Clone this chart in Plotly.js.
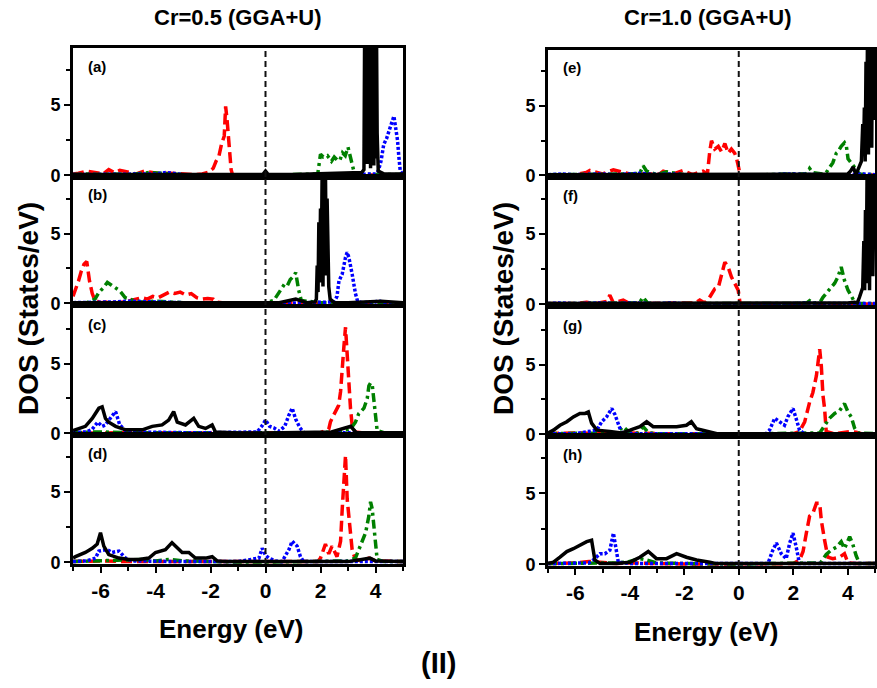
<!DOCTYPE html>
<html>
<head>
<meta charset="utf-8">
<script src="https://cdn.plot.ly/plotly-3.0.1.min.js"></script>
<style>html,body{margin:0;padding:0;background:#fff;}#chart{width:877px;height:688px;}</style>
</head>
<body>
<div id="chart"></div>
<script>
// ---------------- DATA (Energy in eV, DOS in States/eV) ----------------
// Panel (a) Cr=0.5
const E_a_k = [-7,-6,-5,-4,-3,-2,-1,-0.1,0,0.1,1,2,3,3.5,3.58,3.61,3.64,3.67,3.70,3.73,3.76,3.79,3.82,3.85,3.88,3.91,3.94,3.97,4.00,4.03,4.06,4.1,4.3,5];
const D_a_k = [0.05,0.05,0.05,0.05,0.05,0.05,0.05,0.05,0.3,0.05,0.05,0.1,0.15,0.2,0.4,12,1.0,12,0.8,12,1.5,12,0.5,12,2.0,12,0.7,12,1.2,12,3,0.3,0.1,0.1];
const E_a_r = [-7,-6.8,-6.5,-6.2,-5.9,-5.7,-5.5,-5.3,-5.0,-4.7,-4.4,-4.1,-3.8,-3.5,-3.2,-2.9,-2.6,-2.3,-2.1,-1.9,-1.8,-1.7,-1.6,-1.5,-1.45,-1.4,-1.35,-1.3,-1.25,-1.2,-1.0,0,1,2,3,4,5];
const D_a_r = [0.1,0.15,0.3,0.2,0.1,0.4,0.2,0.35,0.25,0.1,0.3,0.2,0.1,0.15,0.1,0.05,0.05,0.1,0.2,0.5,1.0,1.3,2.2,2.8,4.9,4.0,2.8,1.5,0.4,0.05,0.02,0.02,0.02,0.02,0.02,0.02,0.02];
const E_a_g = [-7,-6.5,-6,-5.5,-5,-4.5,-4.2,-3.8,-3.4,-3,-2,-1,0,1,1.9,2.0,2.1,2.25,2.4,2.5,2.6,2.7,2.8,2.9,3.0,3.1,3.2,3.3,4,5];
const D_a_g = [0.05,0.1,0.05,0.1,0.05,0.15,0.2,0.15,0.1,0.05,0.02,0.02,0.02,0.05,0.1,1.5,1.3,1.4,1.0,1.3,1.1,1.05,1.6,1.4,2.0,1.2,0.4,0.1,0.05,0.05];
const E_a_b = [-7,-6,-5,-4,-3.6,-3,-2,-1,0,1,2,3,4.0,4.1,4.2,4.3,4.4,4.5,4.6,4.67,4.75,4.8,4.85,4.9,5];
const D_a_b = [0.05,0.05,0.05,0.1,0.2,0.05,0.02,0.02,0.02,0.02,0.05,0.05,0.1,0.3,1.0,2.2,2.6,3.3,3.8,4.2,3.2,2.5,1.3,0.3,0.1];
// Panel (b) Cr=0.5
const E_b_k = [-7,-6,-5,-4,-3,-2,-1,0,0.5,1.1,1.5,1.8,1.85,1.88,1.91,1.94,1.97,2.0,2.03,2.06,2.09,2.12,2.15,2.18,2.21,2.24,2.27,2.3,2.35,2.5,3,4,4.2,5];
const D_b_k = [0.05,0.05,0.05,0.05,0.05,0.05,0.05,0.05,0.05,0.3,0.05,0.1,0.3,2.7,0.8,5.8,1.5,6.8,3.0,9.5,1.2,9.5,4.0,9.5,2.0,7.5,5.0,1.2,0.3,0.05,0.05,0.1,0.15,0.05];
const E_b_r = [-7,-6.9,-6.8,-6.7,-6.6,-6.5,-6.45,-6.4,-6.3,-6.2,-6.0,-5.7,-5.4,-5.1,-4.9,-4.7,-4.5,-4.3,-4.1,-3.9,-3.7,-3.5,-3.3,-3.1,-2.9,-2.7,-2.5,-2.3,-2.1,-1.9,-1.8,-1.5,-1,0,1,2,3,4,5];
const D_b_r = [0.5,1.0,1.6,2.3,2.8,3.0,2.2,1.6,0.7,0.2,0.05,0.1,0.05,0.1,0.2,0.3,0.4,0.3,0.5,0.4,0.6,0.8,0.7,0.8,0.6,0.7,0.4,0.3,0.35,0.3,0.1,0.02,0.02,0.02,0.02,0.02,0.02,0.02,0.02];
const E_b_g = [-7,-6.5,-6.2,-6.05,-5.9,-5.75,-5.6,-5.45,-5.3,-5.1,-4.8,-4.5,-4,-3.5,-3,-2,-1,0,0.3,0.4,0.5,0.6,0.7,0.8,0.9,1.0,1.1,1.2,1.3,2,3,4,5];
const D_b_g = [0.05,0.05,0.3,0.8,1.1,1.5,1.3,1.1,0.9,0.4,0.2,0.1,0.15,0.1,0.05,0.02,0.02,0.05,0.2,0.5,0.8,1.1,1.4,1.3,1.7,1.9,2.2,1.0,0.2,0.05,0.05,0.05,0.05];
const E_b_b = [-7,-6,-5.5,-5,-4.5,-4,-3,-2,-1,0,1,2,2.5,2.6,2.67,2.79,2.85,2.91,2.97,3.03,3.15,3.27,3.35,3.5,4.0,4.1,4.3,5];
const D_b_b = [0.05,0.05,0.1,0.15,0.1,0.1,0.05,0.02,0.02,0.02,0.02,0.05,0.1,0.5,1.6,2.1,2.9,3.3,3.65,3.3,2.1,0.7,0.15,0.05,0.1,0.2,0.05,0.05];
// Panel (c) Cr=0.5
const E_c_k = [-7,-6.79,-6.55,-6.30,-6.06,-5.94,-5.82,-5.70,-5.45,-5.09,-4.48,-4.12,-3.76,-3.52,-3.34,-3.21,-2.91,-2.61,-2.43,-2.18,-1.94,-1.82,-1.5,-1,0,1,2,2.4,3.1,3.3,4,5];
const D_c_k = [0.2,0.35,0.5,1.07,1.8,1.9,1.07,0.8,0.5,0.25,0.25,0.5,0.6,0.95,1.55,0.8,0.6,1.07,0.5,0.35,0.6,0.1,0.05,0.02,0.02,0.05,0.05,0.1,0.5,0.05,0.05,0.05];
const E_c_r = [-7,-6,-5,-4,-3,-2,-1,0,1,2,2.3,2.36,2.45,2.54,2.66,2.73,2.79,2.85,2.91,2.97,3.03,3.09,3.15,3.25,3.5,4,4.2,5];
const D_c_r = [0.02,0.05,0.05,0.05,0.02,0.02,0.02,0.02,0.02,0.05,0.3,0.8,1.2,1.5,2.0,3.0,5.0,6.2,7.6,5.5,3.0,1.8,0.6,0.1,0.05,0.05,0.05,0.05];
const E_c_g = [-7,-6,-5,-4,-3,-2,-1,0,1,2,2.5,2.9,3.09,3.27,3.39,3.58,3.70,3.76,3.82,3.88,3.94,4.0,4.06,4.3,5];
const D_c_g = [0.05,0.1,0.05,0.05,0.05,0.02,0.02,0.05,0.05,0.05,0.1,0.2,0.3,0.8,1.4,1.8,2.5,3.4,3.6,3.5,2.5,1.1,0.2,0.05,0.05];
const E_c_b = [-7,-6.5,-6.3,-6.1,-5.94,-5.82,-5.6,-5.45,-5.3,-5.09,-4.8,-4,-3,-2,-1,-0.3,-0.1,0.0,0.15,0.3,0.5,0.7,0.85,0.97,1.1,1.25,1.4,2,3,4,5];
const D_c_b = [0.05,0.1,0.3,0.8,0.5,0.6,1.2,1.55,0.6,0.2,0.1,0.05,0.05,0.05,0.05,0.1,0.6,0.95,0.5,0.4,0.15,0.5,1.3,1.8,1.0,0.4,0.05,0.05,0.05,0.05,0.05];
// Panel (d) Cr=0.5
const E_d_k = [-7,-6.91,-6.55,-6.30,-6.12,-6.0,-5.88,-5.70,-5.33,-4.97,-4.61,-4.24,-4.0,-3.64,-3.40,-3.27,-3.03,-2.79,-2.55,-2.18,-1.94,-1.76,-1.5,0,1,2,3,3.5,3.8,4.0,5];
const D_d_k = [0.3,0.4,0.7,1.0,1.3,2.1,1.15,0.55,0.3,0.2,0.2,0.3,0.7,0.9,1.4,1.15,0.7,0.7,0.3,0.3,0.4,0.1,0.05,0.05,0.05,0.05,0.05,0.2,0.3,0.1,0.05];
const E_d_r = [-7,-6,-5,-4,-3,-2,-1,0,1,1.9,2.0,2.06,2.18,2.3,2.42,2.6,2.73,2.79,2.85,2.91,2.97,3.03,3.09,3.15,3.27,3.5,3.76,4.0,5];
const D_d_r = [0.05,0.1,0.05,0.05,0.05,0.02,0.02,0.02,0.02,0.05,0.3,0.7,1.3,0.6,1.15,0.4,1.5,3.8,5.5,7.6,4.5,3.3,1.9,0.9,0.2,0.1,0.3,0.1,0.05];
const E_d_g = [-7,-6,-5,-4.5,-4,-3.5,-3,-2,-1,0,1,2,3,3.27,3.39,3.52,3.64,3.76,3.82,3.88,3.94,4.0,4.06,4.3,5];
const D_d_g = [0.05,0.1,0.15,0.2,0.1,0.2,0.1,0.05,0.02,0.02,0.05,0.05,0.1,0.3,0.9,1.6,2.1,3.3,4.3,3.8,2.6,1.15,0.2,0.05,0.05];
const E_d_b = [-7,-6.5,-6.18,-6.06,-5.76,-5.58,-5.33,-5.09,-4.85,-4,-3,-2,-1,-0.24,-0.12,0,0.12,0.36,0.6,0.85,0.97,1.15,1.27,1.39,2,3,4,5];
const D_d_b = [0.05,0.1,0.3,0.8,0.9,0.7,0.8,0.3,0.1,0.05,0.05,0.05,0.05,0.3,1.0,0.5,0.3,0.1,0.05,0.9,1.5,1.15,0.4,0.05,0.05,0.05,0.05,0.05];
// Panel (e) Cr=1.0
const E_e_k = [-7,-6,-5,-4,-3,-2,-1,0,1,2,3,4.0,4.1,4.2,4.3,4.4,4.5,4.55,4.58,4.61,4.64,4.67,4.70,4.73,4.76,4.79,4.82,4.85,4.88,4.91,4.94,4.97,5.0];
const D_e_k = [0.05,0.05,0.05,0.05,0.05,0.05,0.05,0.05,0.05,0.05,0.05,0.1,0.3,0.6,0.05,0.6,1.0,3.7,1.5,4.9,1.0,8.2,2.5,12,1.5,12,3.0,12,2.0,12,4.0,12,12];
const E_e_r = [-7,-6,-5.6,-5.46,-5.0,-4.7,-4.6,-4.0,-3.5,-2.9,-2.77,-2.4,-2.04,-1.7,-1.31,-1.15,-1.06,-1.0,-0.88,-0.75,-0.63,-0.51,-0.39,-0.27,-0.15,-0.09,-0.02,0.05,0.5,1,2,3,4,5];
const D_e_r = [0.05,0.05,0.2,0.35,0.1,0.3,0.4,0.1,0.1,0.1,0.3,0.1,0.35,0.05,0.3,0.1,1.8,2.5,1.9,2.1,1.7,2.3,1.6,1.9,1.6,1.3,0.7,0.05,0.02,0.02,0.02,0.02,0.02,0.02];
const E_e_g = [-7,-6,-5,-4.5,-4,-3.63,-3.51,-3.38,-3.0,-2.65,-2.0,-1,0,1,2.0,2.48,2.6,2.72,3.09,3.21,3.45,3.52,3.58,3.64,3.76,3.88,3.95,4.01,4.13,4.25,4.43,5];
const D_e_g = [0.05,0.05,0.1,0.05,0.1,0.15,0.7,0.3,0.05,0.25,0.05,0.02,0.02,0.05,0.1,0.1,0.5,0.2,0.1,0.2,0.9,1.2,1.6,1.7,2.1,2.35,2.1,1.2,0.9,0.5,0.1,0.05];
const E_e_b = [-7,-6.5,-6,-5,-4.5,-4,-3.6,-3,-2.5,-2,-1,0,1,1.8,2.5,3,4,4.5,5];
const D_e_b = [0.05,0.1,0.05,0.1,0.05,0.1,0.15,0.05,0.1,0.05,0.02,0.02,0.02,0.1,0.05,0.05,0.05,0.1,0.05];
// Panel (f) Cr=1.0
const E_f_k = [-7,-6,-5,-4,-3,-2,-1,0,1,2,3,4.0,4.25,4.35,4.43,4.55,4.59,4.62,4.65,4.68,4.71,4.74,4.77,4.80,4.83,4.86,4.89,4.92,4.95,4.98,5.0];
const D_f_k = [0.05,0.05,0.05,0.05,0.05,0.05,0.05,0.05,0.05,0.05,0.05,0.1,0.15,0.1,0.5,1.2,4.5,1.0,6.7,2.0,9.5,1.5,12,1.0,12,3.0,12,2.0,12,12,12];
const E_f_r = [-7,-6,-5.58,-5.3,-4.85,-4.73,-4.6,-4.24,-4.0,-3,-2,-1.6,-1.43,-1.25,-1.1,-1.0,-0.88,-0.75,-0.63,-0.51,-0.39,-0.27,-0.15,-0.02,0.05,1,2,3,4,5];
const D_f_r = [0.05,0.05,0.15,0.05,0.2,0.65,0.1,0.3,0.05,0.05,0.05,0.1,0.3,0.1,0.4,0.75,1.1,1.2,2.05,3.0,2.65,1.95,1.5,1.0,0.05,0.02,0.02,0.02,0.02,0.02];
const E_f_g = [-7,-6,-5,-4,-3.65,-3.51,-3.35,-3,-2,-1,0,1,2,2.5,2.6,2.75,3.0,3.09,3.21,3.33,3.52,3.64,3.76,3.88,4.01,4.13,4.25,4.4,5];
const D_f_g = [0.05,0.05,0.05,0.05,0.1,0.5,0.1,0.05,0.05,0.02,0.02,0.05,0.05,0.1,0.25,0.05,0.2,0.5,0.8,1.1,1.5,1.95,2.65,1.7,1.0,0.6,0.15,0.05,0.05];
const E_f_b = [-7,-6.5,-6,-5,-4.5,-4,-3,-2.5,-2,-1,0,1,2,2.5,3,4,4.5,5];
const D_f_b = [0.05,0.1,0.05,0.1,0.05,0.1,0.05,0.1,0.05,0.02,0.02,0.02,0.05,0.1,0.05,0.05,0.1,0.05];
// Panel (g) Cr=1.0
const E_g_k = [-7,-6.80,-6.56,-6.31,-6.07,-5.83,-5.64,-5.52,-5.40,-5.21,-4.73,-4.3,-3.99,-3.63,-3.38,-3.14,-2.77,-2.28,-1.92,-1.74,-1.55,-1.06,-0.8,0,1,2,3,4,4.5,5];
const D_g_k = [0.1,0.3,0.65,0.9,1.25,1.5,1.5,1.6,0.8,0.3,0.2,0.1,0.3,0.55,0.9,0.55,0.55,0.55,0.65,0.9,0.4,0.2,0.05,0.05,0.05,0.05,0.05,0.05,0.1,0.05];
const E_g_r = [-7,-6,-5,-4,-3,-2,-1,0,1,2,2.23,2.42,2.60,2.72,2.85,2.97,3.03,3.09,3.15,3.21,3.5,3.88,4.1,4.31,4.5,5];
const D_g_r = [0.05,0.1,0.05,0.1,0.05,0.05,0.02,0.02,0.02,0.05,0.2,0.9,2.3,3.0,4.2,6.1,4.9,2.8,1.85,0.2,0.05,0.15,0.2,0.15,0.05,0.05];
const E_g_g = [-7,-6,-5,-4.5,-4.24,-4.0,-3.7,-3.51,-3.3,-3,-2,-1,0,1,2,2.97,3.33,3.52,3.70,3.88,4.01,4.13,4.25,4.37,5];
const D_g_g = [0.05,0.05,0.1,0.1,0.55,0.1,0.1,0.55,0.1,0.05,0.05,0.02,0.02,0.05,0.05,0.1,1.15,1.5,1.7,2.2,1.6,1.25,0.45,0.1,0.05];
const E_g_b = [-7,-6,-5.21,-5.03,-4.85,-4.66,-4.54,-4.42,-4.30,-4,-3,-2,-1,0,1.0,1.13,1.32,1.50,1.68,1.80,1.99,2.11,2.23,2.4,3,4,5];
const D_g_b = [0.05,0.05,0.3,0.9,1.25,1.85,1.4,0.65,0.1,0.05,0.05,0.05,0.05,0.02,0.05,0.3,1.15,0.9,0.65,1.25,1.85,1.1,0.3,0.05,0.05,0.05,0.05];
// Panel (h) Cr=1.0
const E_h_k = [-7,-6.80,-6.56,-6.31,-6.07,-5.83,-5.58,-5.40,-5.28,-5.09,-4.48,-3.99,-3.63,-3.32,-3.02,-2.65,-2.28,-1.92,-1.55,-1.06,-0.82,0,1,2,3,4,5];
const D_h_k = [0.05,0.15,0.5,0.9,1.1,1.35,1.6,1.7,0.3,0.05,0.05,0.15,0.5,0.9,0.4,0.4,0.75,0.5,0.3,0.15,0.05,0.05,0.05,0.05,0.05,0.05,0.05];
const E_h_r = [-7,-6,-5.5,-5,-4.5,-4,-3,-2,-1,0,1,2,2.23,2.36,2.48,2.60,2.72,2.85,2.97,3.03,3.15,3.27,3.45,3.70,3.88,4.01,4.3,5];
const D_h_r = [0.05,0.1,0.2,0.15,0.05,0.1,0.05,0.02,0.02,0.02,0.02,0.05,0.3,0.9,2.2,3.4,3.6,4.3,4.3,3.1,1.7,0.5,0.4,0.5,0.75,0.1,0.05,0.05];
const E_h_g = [-7,-6,-5,-4.5,-4.11,-3.63,-3.38,-3,-2,-1,0,1,2,3,3.21,3.39,3.58,3.76,3.88,4.07,4.18,4.31,4.43,5];
const D_h_g = [0.05,0.05,0.1,0.1,0.15,0.4,0.3,0.1,0.05,0.02,0.02,0.05,0.05,0.1,0.7,1.0,1.2,1.6,1.1,1.95,1.45,0.6,0.05,0.05];
const E_h_b = [-7,-6,-5.5,-5.34,-5.09,-4.91,-4.73,-4.60,-4.51,-4.42,-4,-3,-2,-1,0,1.07,1.25,1.38,1.56,1.74,1.87,1.99,2.11,2.23,3,4,5];
const D_h_b = [0.05,0.05,0.1,0.3,0.75,0.75,1.0,2.2,1.2,0.15,0.05,0.05,0.05,0.05,0.02,0.05,1.0,1.5,0.75,0.4,1.5,2.2,1.2,0.05,0.05,0.05,0.05];

const panelLabels = ["(a)","(b)","(c)","(d)","(e)","(f)","(g)","(h)"];
const columnTitles = ["Cr=0.5 (GGA+U)", "Cr=1.0 (GGA+U)"];
const xTickVals = [-6,-4,-2,0,2,4];
const yTickVals = [0,5];

// ---------------- STYLE ----------------
const FONT = "Liberation Sans, Arial, sans-serif";
const styles = {
  k: {color:"#000000", width:3.5, dash:"solid"},
  r: {color:"#ff0000", width:3.5, dash:"11px,5px"},
  g: {color:"#008000", width:3.5, dash:"9px,4px,3px,4px"},
  b: {color:"#0000ff", width:3.5, dash:"3px,2px"}
};
const panels = [
  {k:[E_a_k,D_a_k], r:[E_a_r,D_a_r], g:[E_a_g,D_a_g], b:[E_a_b,D_a_b]},
  {k:[E_b_k,D_b_k], r:[E_b_r,D_b_r], g:[E_b_g,D_b_g], b:[E_b_b,D_b_b]},
  {k:[E_c_k,D_c_k], r:[E_c_r,D_c_r], g:[E_c_g,D_c_g], b:[E_c_b,D_c_b]},
  {k:[E_d_k,D_d_k], r:[E_d_r,D_d_r], g:[E_d_g,D_d_g], b:[E_d_b,D_d_b]},
  {k:[E_e_k,D_e_k], r:[E_e_r,D_e_r], g:[E_e_g,D_e_g], b:[E_e_b,D_e_b]},
  {k:[E_f_k,D_f_k], r:[E_f_r,D_f_r], g:[E_f_g,D_f_g], b:[E_f_b,D_f_b]},
  {k:[E_g_k,D_g_k], r:[E_g_r,D_g_r], g:[E_g_g,D_g_g], b:[E_g_b,D_g_b]},
  {k:[E_h_k,D_h_k], r:[E_h_r,D_h_r], g:[E_h_g,D_h_g], b:[E_h_b,D_h_b]}
];

const W = 877, H = 688;
const colX = [[73/W, 403/W], [548/W, 875/W]];
const rowYLeft  = [[48,177],[177,305],[307,435],[435,564]];
const rowYRight = [[50,177],[177,306],[308,436],[436,566]];

const traces = [];
const layout = {
  width: W, height: H,
  margin: {l:0, r:0, t:0, b:0},
  paper_bgcolor: "#fff", plot_bgcolor: "#fff",
  showlegend: false,
  font: {family: FONT, color: "#000"},
  shapes: [], annotations: []
};

panels.forEach((p, i) => {
  const col = i < 4 ? 0 : 1;
  const row = i % 4;
  const n = i + 1;
  const xs = n === 1 ? "x" : "x" + n;
  const ys = n === 1 ? "y" : "y" + n;
  const xk = n === 1 ? "xaxis" : "xaxis" + n;
  const yk = n === 1 ? "yaxis" : "yaxis" + n;
  const ry = (col === 0 ? rowYLeft : rowYRight)[row];
  const bottom = row === 3;
  layout[xk] = {
    domain: colX[col], anchor: ys, range: [-7, 5],
    showline: true, linecolor: "#000", linewidth: 3, mirror: true,
    showgrid: false, zeroline: false,
    tickvals: xTickVals, ticktext: xTickVals.map(String),
    showticklabels: bottom,
    ticks: bottom ? "outside" : "", ticklen: 6, tickwidth: 2, tickcolor: "#000",
    minor: bottom ? {dtick: 1, tick0: 0, ticks: "outside", ticklen: 4, tickwidth: 2, tickcolor: "#000"} : {},
    tickfont: {family: FONT, size: 21, color: "#000", weight: "bold"},
    layer: "below traces"
  };
  layout[yk] = {
    domain: [1 - ry[1]/H, 1 - ry[0]/H], anchor: xs, range: [-0.12, 9.05],
    showline: true, linecolor: "#000", linewidth: 3, mirror: true,
    showgrid: false, zeroline: false,
    tickvals: yTickVals, ticks: "outside", ticklen: 6, tickwidth: 2, tickcolor: "#000",
    minor: {tickvals: [2.5, 7.5], ticks: "outside", ticklen: 4, tickwidth: 2, tickcolor: "#000"},
    tickfont: {family: FONT, size: 18, color: "#000", weight: "bold"},
    layer: "below traces"
  };
  ["r","g","b","k"].forEach(key => {
    traces.push({
      type: "scatter", mode: "lines",
      x: p[key][0], y: p[key][1],
      xaxis: xs, yaxis: ys,
      line: Object.assign({}, styles[key]),
      hoverinfo: "skip"
    });
  });
  layout.shapes.push({
    type: "line", xref: xs, yref: ys + " domain",
    x0: 0, x1: 0, y0: 0, y1: 1,
    line: {color: "#111", width: 2, dash: "6px,4px"}
  });
  layout.annotations.push({
    text: panelLabels[i], xref: xs + " domain", yref: ys + " domain",
    x: 0.04, y: 0.86, xanchor: "left", yanchor: "middle", showarrow: false,
    font: {family: FONT, size: 15, color: "#000", weight: "bold"}
  });
});

function addText(text, xpx, ypx, size, angle) {
  layout.annotations.push({
    text: text, xref: "paper", yref: "paper",
    x: xpx / W, y: 1 - ypx / H, xanchor: "center", yanchor: "middle",
    showarrow: false, textangle: angle || 0,
    font: {family: FONT, size: size, color: "#000", weight: "bold"}
  });
}
addText(columnTitles[0], 238, 17, 22);
addText(columnTitles[1], 708, 17, 22);
addText("DOS (States/eV)", 28, 309, 28, -90);
addText("DOS (States/eV)", 503, 309, 28, -90);
addText("Energy (eV)", 231, 629, 26);
addText("Energy (eV)", 706, 632, 26);
addText("(II)", 438, 663, 29);

Plotly.newPlot("chart", traces, layout, {staticPlot: true, displayModeBar: false});
</script>
</body>
</html>
